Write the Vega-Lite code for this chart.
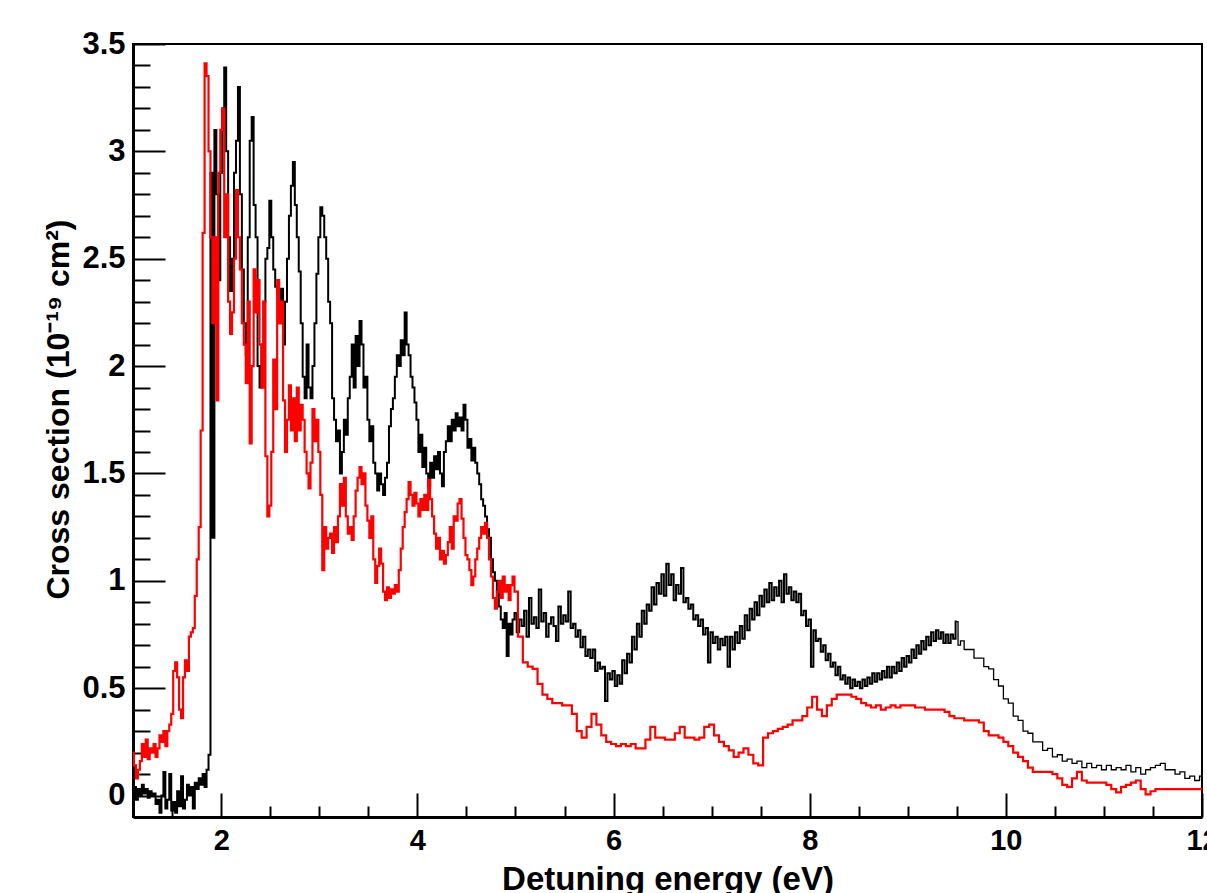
{
  "$schema": "https://vega.github.io/schema/vega-lite/v6.json",
  "width": 1069,
  "height": 773,
  "autosize": {"type": "none"},
  "padding": {"left": 133, "top": 44, "right": 5, "bottom": 76},
  "background": "white",
  "config": {
    "view": {"stroke": "#000", "strokeWidth": 2},
    "font": "Liberation Sans"
  },
  "datasets": {
    "black": [
      {"x":1.10,"y":0.02},{"x":1.12,"y":0.04},{"x":1.14,"y":-0.02},{"x":1.16,"y":0.03},{"x":1.18,"y":0.0},{"x":1.20,"y":0.05},{"x":1.22,"y":0.01},{"x":1.24,"y":0.03},{"x":1.26,"y":-0.01},{"x":1.28,"y":0.02},{"x":1.30,"y":0.0},{"x":1.32,"y":0.01},{"x":1.34,"y":-0.04},{"x":1.36,"y":-0.02},{"x":1.38,"y":-0.08},{"x":1.40,"y":0.0},{"x":1.42,"y":0.11},{"x":1.44,"y":-0.06},{"x":1.46,"y":-0.02},{"x":1.48,"y":0.10},{"x":1.50,"y":-0.07},{"x":1.52,"y":-0.03},{"x":1.54,"y":-0.08},{"x":1.56,"y":0.02},{"x":1.58,"y":-0.05},{"x":1.60,"y":0.09},{"x":1.62,"y":-0.06},{"x":1.64,"y":-0.02},{"x":1.66,"y":0.05},{"x":1.68,"y":0.0},{"x":1.70,"y":0.04},{"x":1.72,"y":-0.06},{"x":1.74,"y":0.06},{"x":1.76,"y":0.03},{"x":1.78,"y":0.08},{"x":1.80,"y":0.05},{"x":1.82,"y":0.1},{"x":1.84,"y":0.04},{"x":1.86,"y":0.12},{"x":1.88,"y":0.19},{"x":1.90,"y":2.9},{"x":1.92,"y":1.2},
      {"x":1.94,"y":3.1},{"x":1.96,"y":2.8},{"x":1.98,"y":2.4},{"x":2.00,"y":2.9},{"x":2.02,"y":3.2},{"x":2.04,"y":3.39},{"x":2.06,"y":3.0},{"x":2.08,"y":2.6},{"x":2.10,"y":2.35},{"x":2.12,"y":2.5},{"x":2.14,"y":2.9},{"x":2.16,"y":3.05},{"x":2.18,"y":3.3},{"x":2.20,"y":2.8},{"x":2.22,"y":2.45},{"x":2.24,"y":2.2},{"x":2.26,"y":2.05},{"x":2.28,"y":2.6},{"x":2.30,"y":3.05},{"x":2.32,"y":3.16},{"x":2.34,"y":2.75},{"x":2.36,"y":2.6},{"x":2.38,"y":2.0},{"x":2.40,"y":1.9},{"x":2.42,"y":2.1},{"x":2.44,"y":2.3},{"x":2.46,"y":2.5},{"x":2.48,"y":2.55},{"x":2.50,"y":2.77},{"x":2.52,"y":2.6},{"x":2.54,"y":2.45},{"x":2.56,"y":2.37},{"x":2.58,"y":2.35},{"x":2.60,"y":2.2},{"x":2.62,"y":2.36},{"x":2.64,"y":2.1},{"x":2.66,"y":2.3},{"x":2.68,"y":2.5},{"x":2.70,"y":2.7},{"x":2.72,"y":2.84},{"x":2.74,"y":2.95},{"x":2.76,"y":2.75},{"x":2.78,"y":2.6},{"x":2.80,"y":2.44},{"x":2.82,"y":2.2},{"x":2.84,"y":1.95},{"x":2.86,"y":1.85},{"x":2.88,"y":2.1},{"x":2.90,"y":1.9},{"x":2.92,"y":1.85},{"x":2.94,"y":2.0},{"x":2.96,"y":2.2},{"x":2.98,"y":2.43},{"x":3.00,"y":2.6},{"x":3.02,"y":2.74},{"x":3.04,"y":2.7},{"x":3.06,"y":2.6},{"x":3.08,"y":2.5},{"x":3.10,"y":2.3},{"x":3.12,"y":2.2},{"x":3.14,"y":1.85},{"x":3.16,"y":1.75},{"x":3.18,"y":1.65},{"x":3.20,"y":1.7},{"x":3.22,"y":1.5},{"x":3.24,"y":1.6},{"x":3.26,"y":1.75},{"x":3.28,"y":1.68},{"x":3.30,"y":1.85},{"x":3.32,"y":1.95},{"x":3.34,"y":2.1},{"x":3.36,"y":1.9},{"x":3.38,"y":2.14},{"x":3.40,"y":2.0},{"x":3.42,"y":2.21},{"x":3.44,"y":2.1},{"x":3.46,"y":1.9},{"x":3.48,"y":1.95},{"x":3.50,"y":1.75},{"x":3.52,"y":1.65},{"x":3.54,"y":1.72},{"x":3.56,"y":1.55},{"x":3.58,"y":1.5},{"x":3.60,"y":1.42},{"x":3.62,"y":1.5},{"x":3.64,"y":1.45},{"x":3.66,"y":1.4},{"x":3.68,"y":1.48},{"x":3.70,"y":1.55},{"x":3.72,"y":1.72},{"x":3.74,"y":1.8},{"x":3.76,"y":1.85},{"x":3.78,"y":1.95},{"x":3.80,"y":2.05},{"x":3.82,"y":2.0},{"x":3.84,"y":2.12},{"x":3.86,"y":2.05},{"x":3.88,"y":2.25},{"x":3.90,"y":2.1},{"x":3.92,"y":2.05},{"x":3.94,"y":1.95},{"x":3.96,"y":1.9},{"x":3.98,"y":1.83},{"x":4.00,"y":1.75},{"x":4.02,"y":1.6},{"x":4.04,"y":1.68},{"x":4.06,"y":1.53},{"x":4.08,"y":1.62},{"x":4.10,"y":1.5},{"x":4.12,"y":1.44},{"x":4.14,"y":1.55},{"x":4.16,"y":1.48},{"x":4.18,"y":1.58},{"x":4.20,"y":1.52},{"x":4.22,"y":1.6},{"x":4.24,"y":1.5},{"x":4.26,"y":1.44},{"x":4.28,"y":1.6},{"x":4.30,"y":1.65},{"x":4.32,"y":1.72},{"x":4.34,"y":1.65},{"x":4.36,"y":1.75},{"x":4.38,"y":1.7},{"x":4.40,"y":1.78},{"x":4.42,"y":1.72},{"x":4.44,"y":1.76},{"x":4.46,"y":1.7},{"x":4.48,"y":1.82},{"x":4.50,"y":1.75},{"x":4.52,"y":1.62},{"x":4.54,"y":1.66},{"x":4.56,"y":1.56},{"x":4.58,"y":1.62},{"x":4.60,"y":1.55},{"x":4.62,"y":1.5},{"x":4.64,"y":1.45},{"x":4.66,"y":1.38},{"x":4.68,"y":1.35},{"x":4.70,"y":1.3},{"x":4.72,"y":1.24},{"x":4.74,"y":1.2},{"x":4.76,"y":1.1},{"x":4.78,"y":1.04},{"x":4.80,"y":1.0},{"x":4.82,"y":0.95},{"x":4.84,"y":0.88},{"x":4.86,"y":0.82},{"x":4.88,"y":0.78},{"x":4.90,"y":0.85},{"x":4.92,"y":0.65},{"x":4.94,"y":0.8},{"x":4.96,"y":0.75},{"x":4.98,"y":0.82},
      {"x":5.000,"y":0.85},{"x":5.025,"y":0.76},{"x":5.050,"y":0.82},{"x":5.075,"y":0.79},{"x":5.100,"y":0.86},{"x":5.125,"y":0.74},{"x":5.150,"y":0.92},{"x":5.175,"y":0.80},{"x":5.200,"y":0.83},{"x":5.225,"y":0.78},{"x":5.250,"y":0.96},{"x":5.275,"y":0.81},{"x":5.300,"y":0.85},{"x":5.325,"y":0.74},{"x":5.350,"y":0.80},{"x":5.375,"y":0.83},{"x":5.400,"y":0.79},{"x":5.425,"y":0.72},{"x":5.450,"y":0.88},{"x":5.475,"y":0.80},{"x":5.500,"y":0.84},{"x":5.525,"y":0.81},{"x":5.550,"y":0.95},{"x":5.575,"y":0.78},{"x":5.600,"y":0.80},{"x":5.625,"y":0.74},{"x":5.650,"y":0.77},{"x":5.675,"y":0.69},{"x":5.700,"y":0.74},{"x":5.725,"y":0.65},{"x":5.750,"y":0.68},{"x":5.775,"y":0.64},{"x":5.800,"y":0.68},{"x":5.825,"y":0.58},{"x":5.850,"y":0.62},{"x":5.875,"y":0.59},{"x":5.900,"y":0.60},{"x":5.925,"y":0.44},{"x":5.950,"y":0.57},{"x":5.975,"y":0.54},{"x":6.000,"y":0.58},{"x":6.025,"y":0.51},{"x":6.050,"y":0.56},{"x":6.075,"y":0.52},{"x":6.100,"y":0.63},{"x":6.125,"y":0.57},{"x":6.150,"y":0.66},{"x":6.175,"y":0.62},{"x":6.200,"y":0.74},{"x":6.225,"y":0.68},{"x":6.250,"y":0.80},{"x":6.275,"y":0.74},{"x":6.300,"y":0.86},{"x":6.325,"y":0.80},{"x":6.350,"y":0.89},{"x":6.375,"y":0.86},{"x":6.400,"y":0.97},{"x":6.425,"y":0.89},{"x":6.450,"y":0.99},{"x":6.475,"y":0.94},{"x":6.500,"y":1.03},{"x":6.525,"y":0.93},{"x":6.550,"y":1.08},{"x":6.575,"y":0.98},{"x":6.600,"y":1.03},{"x":6.625,"y":0.91},{"x":6.650,"y":0.98},{"x":6.675,"y":0.94},{"x":6.700,"y":1.06},{"x":6.725,"y":0.90},{"x":6.750,"y":0.92},{"x":6.775,"y":0.87},{"x":6.800,"y":0.89},{"x":6.825,"y":0.82},{"x":6.850,"y":0.84},{"x":6.875,"y":0.79},{"x":6.900,"y":0.82},{"x":6.925,"y":0.75},{"x":6.950,"y":0.78},{"x":6.975,"y":0.62},{"x":7.000,"y":0.76},{"x":7.025,"y":0.71},{"x":7.050,"y":0.74},{"x":7.075,"y":0.68},{"x":7.100,"y":0.73},{"x":7.125,"y":0.70},{"x":7.150,"y":0.74},{"x":7.175,"y":0.60},{"x":7.200,"y":0.74},{"x":7.225,"y":0.68},{"x":7.250,"y":0.76},{"x":7.275,"y":0.71},{"x":7.300,"y":0.79},{"x":7.325,"y":0.73},{"x":7.350,"y":0.84},{"x":7.375,"y":0.77},{"x":7.400,"y":0.87},{"x":7.425,"y":0.82},{"x":7.450,"y":0.90},{"x":7.475,"y":0.84},{"x":7.500,"y":0.93},{"x":7.525,"y":0.88},{"x":7.550,"y":0.96},{"x":7.575,"y":0.90},{"x":7.600,"y":0.99},{"x":7.625,"y":0.91},{"x":7.650,"y":0.97},{"x":7.675,"y":0.93},{"x":7.700,"y":1.00},{"x":7.725,"y":0.90},{"x":7.750,"y":1.03},{"x":7.775,"y":0.94},{"x":7.800,"y":0.97},{"x":7.825,"y":0.91},{"x":7.850,"y":0.95},{"x":7.875,"y":0.90},{"x":7.900,"y":0.94},{"x":7.925,"y":0.84},{"x":7.950,"y":0.86},{"x":7.975,"y":0.79},{"x":8.000,"y":0.82},{"x":8.025,"y":0.60},{"x":8.050,"y":0.77},{"x":8.075,"y":0.72},{"x":8.100,"y":0.73},{"x":8.125,"y":0.67},{"x":8.150,"y":0.70},{"x":8.175,"y":0.63},{"x":8.200,"y":0.66},{"x":8.225,"y":0.60},{"x":8.250,"y":0.62},{"x":8.275,"y":0.56},{"x":8.300,"y":0.60},{"x":8.325,"y":0.54},{"x":8.350,"y":0.56},{"x":8.375,"y":0.52},{"x":8.400,"y":0.55},{"x":8.425,"y":0.50},{"x":8.450,"y":0.54},{"x":8.475,"y":0.51},{"x":8.500,"y":0.53},{"x":8.525,"y":0.50},{"x":8.550,"y":0.54},{"x":8.575,"y":0.51},{"x":8.600,"y":0.55},{"x":8.625,"y":0.52},{"x":8.650,"y":0.57},{"x":8.675,"y":0.53},{"x":8.700,"y":0.57},{"x":8.725,"y":0.54},{"x":8.750,"y":0.58},{"x":8.775,"y":0.55},{"x":8.800,"y":0.60},{"x":8.825,"y":0.55},{"x":8.850,"y":0.60},{"x":8.875,"y":0.57},{"x":8.900,"y":0.62},{"x":8.925,"y":0.58},{"x":8.950,"y":0.64},{"x":8.975,"y":0.60},{"x":9.000,"y":0.65},{"x":9.025,"y":0.62},{"x":9.050,"y":0.68},{"x":9.075,"y":0.64},{"x":9.100,"y":0.70},{"x":9.125,"y":0.66},{"x":9.150,"y":0.72},{"x":9.175,"y":0.68},{"x":9.200,"y":0.74},{"x":9.225,"y":0.70},{"x":9.250,"y":0.76},{"x":9.275,"y":0.72},{"x":9.300,"y":0.77},{"x":9.325,"y":0.73},{"x":9.350,"y":0.76},{"x":9.375,"y":0.71},{"x":9.400,"y":0.75},{"x":9.425,"y":0.71},{"x":9.450,"y":0.75},{"x":9.475,"y":0.73},{"x":9.500,"y":0.81}
    ],
    "blackTail": [
      {"x":9.500,"y":0.81},{"x":9.525,"y":0.70},{"x":9.55,"y":0.72},{"x":9.60,"y":0.68},{"x":9.65,"y":0.68},{"x":9.70,"y":0.64},{"x":9.75,"y":0.64},{"x":9.80,"y":0.60},{"x":9.85,"y":0.59},{"x":9.90,"y":0.54},{"x":9.95,"y":0.51},{"x":10.00,"y":0.45},{"x":10.05,"y":0.43},{"x":10.10,"y":0.37},{"x":10.15,"y":0.35},{"x":10.20,"y":0.30},{"x":10.25,"y":0.29},{"x":10.30,"y":0.25},{"x":10.35,"y":0.25},{"x":10.40,"y":0.21},{"x":10.45,"y":0.22},{"x":10.50,"y":0.18},{"x":10.55,"y":0.19},{"x":10.60,"y":0.16},{"x":10.65,"y":0.17},{"x":10.70,"y":0.15},{"x":10.75,"y":0.16},{"x":10.80,"y":0.13},{"x":10.85,"y":0.15},{"x":10.90,"y":0.13},{"x":10.95,"y":0.14},{"x":11.00,"y":0.12},{"x":11.05,"y":0.14},{"x":11.10,"y":0.12},{"x":11.15,"y":0.13},{"x":11.20,"y":0.12},{"x":11.25,"y":0.14},{"x":11.30,"y":0.11},{"x":11.35,"y":0.13},{"x":11.40,"y":0.10},{"x":11.45,"y":0.12},{"x":11.50,"y":0.13},{"x":11.55,"y":0.14},{"x":11.60,"y":0.15},{"x":11.65,"y":0.12},{"x":11.70,"y":0.12},{"x":11.75,"y":0.10},{"x":11.80,"y":0.11},{"x":11.85,"y":0.08},{"x":11.90,"y":0.09},{"x":11.95,"y":0.07},{"x":12.00,"y":0.09}
    ],
    "red": [
      {"x":1.10,"y":0.20},{"x":1.12,"y":0.14},{"x":1.14,"y":0.08},{"x":1.16,"y":0.12},{"x":1.18,"y":0.16},{"x":1.20,"y":0.24},{"x":1.22,"y":0.18},{"x":1.24,"y":0.26},{"x":1.26,"y":0.17},{"x":1.28,"y":0.22},{"x":1.30,"y":0.20},{"x":1.32,"y":0.24},{"x":1.34,"y":0.18},{"x":1.36,"y":0.22},{"x":1.38,"y":0.28},{"x":1.40,"y":0.25},{"x":1.42,"y":0.30},{"x":1.44,"y":0.23},{"x":1.46,"y":0.30},{"x":1.48,"y":0.33},{"x":1.50,"y":0.38},{"x":1.52,"y":0.58},{"x":1.54,"y":0.62},{"x":1.56,"y":0.55},{"x":1.58,"y":0.40},{"x":1.60,"y":0.36},{"x":1.62,"y":0.55},{"x":1.64,"y":0.63},{"x":1.66,"y":0.58},{"x":1.68,"y":0.74},{"x":1.70,"y":0.76},{"x":1.72,"y":0.78},{"x":1.74,"y":0.93},{"x":1.76,"y":1.1},{"x":1.78,"y":1.25},{"x":1.80,"y":1.70},{"x":1.82,"y":2.62},{"x":1.84,"y":3.41},{"x":1.86,"y":3.35},{"x":1.88,"y":3.0},{"x":1.90,"y":2.6},{"x":1.92,"y":2.2},{"x":1.94,"y":2.6},{"x":1.96,"y":1.84},{"x":1.98,"y":2.9},{"x":2.00,"y":3.1},{"x":2.02,"y":3.2},{"x":2.04,"y":2.6},{"x":2.06,"y":2.8},{"x":2.08,"y":2.3},{"x":2.10,"y":2.15},{"x":2.12,"y":2.25},{"x":2.14,"y":2.5},{"x":2.16,"y":2.82},{"x":2.18,"y":2.6},{"x":2.20,"y":2.45},{"x":2.22,"y":2.2},{"x":2.24,"y":2.1},{"x":2.26,"y":1.92},{"x":2.28,"y":2.3},{"x":2.30,"y":1.64},{"x":2.32,"y":2.0},{"x":2.34,"y":2.45},{"x":2.36,"y":2.25},{"x":2.38,"y":2.4},{"x":2.40,"y":2.1},{"x":2.42,"y":1.9},{"x":2.44,"y":2.3},{"x":2.46,"y":1.58},{"x":2.48,"y":1.3},{"x":2.50,"y":1.35},{"x":2.52,"y":1.6},{"x":2.54,"y":2.03},{"x":2.56,"y":1.8},{"x":2.58,"y":2.4},{"x":2.60,"y":2.2},{"x":2.62,"y":2.3},{"x":2.64,"y":1.84},{"x":2.66,"y":1.6},{"x":2.68,"y":1.75},{"x":2.70,"y":1.91},{"x":2.72,"y":1.7},{"x":2.74,"y":1.85},{"x":2.76,"y":1.65},{"x":2.78,"y":1.9},{"x":2.80,"y":1.7},{"x":2.82,"y":1.82},{"x":2.84,"y":1.75},{"x":2.86,"y":1.6},{"x":2.88,"y":1.5},{"x":2.90,"y":1.43},{"x":2.92,"y":1.55},{"x":2.94,"y":1.8},{"x":2.96,"y":1.65},{"x":2.98,"y":1.75},{"x":3.00,"y":1.6},{"x":3.02,"y":1.4},{"x":3.04,"y":1.05},{"x":3.06,"y":1.25},{"x":3.08,"y":1.15},{"x":3.10,"y":1.2},{"x":3.12,"y":1.22},{"x":3.14,"y":1.13},{"x":3.16,"y":1.25},{"x":3.18,"y":1.18},{"x":3.20,"y":1.3},{"x":3.22,"y":1.45},{"x":3.24,"y":1.35},{"x":3.26,"y":1.48},{"x":3.28,"y":1.3},{"x":3.30,"y":1.22},{"x":3.32,"y":1.25},{"x":3.34,"y":1.19},{"x":3.36,"y":1.3},{"x":3.38,"y":1.42},{"x":3.40,"y":1.48},{"x":3.42,"y":1.53},{"x":3.44,"y":1.45},{"x":3.46,"y":1.5},{"x":3.48,"y":1.35},{"x":3.50,"y":1.28},{"x":3.52,"y":1.2},{"x":3.54,"y":1.3},{"x":3.56,"y":1.1},{"x":3.58,"y":0.99},{"x":3.60,"y":1.07},{"x":3.62,"y":1.15},{"x":3.64,"y":1.08},{"x":3.66,"y":0.95},{"x":3.68,"y":0.91},{"x":3.70,"y":0.97},{"x":3.72,"y":0.92},{"x":3.74,"y":0.96},{"x":3.76,"y":0.94},{"x":3.78,"y":0.98},{"x":3.80,"y":0.95},{"x":3.82,"y":1.05},{"x":3.84,"y":1.15},{"x":3.86,"y":1.25},{"x":3.88,"y":1.32},{"x":3.90,"y":1.38},{"x":3.92,"y":1.46},{"x":3.94,"y":1.4},{"x":3.96,"y":1.35},{"x":3.98,"y":1.41},{"x":4.00,"y":1.36},{"x":4.02,"y":1.3},{"x":4.04,"y":1.38},{"x":4.06,"y":1.33},{"x":4.08,"y":1.4},{"x":4.10,"y":1.33},{"x":4.12,"y":1.47},{"x":4.14,"y":1.38},{"x":4.16,"y":1.3},{"x":4.18,"y":1.22},{"x":4.20,"y":1.15},{"x":4.22,"y":1.2},{"x":4.24,"y":1.1},{"x":4.26,"y":1.14},{"x":4.28,"y":1.08},{"x":4.30,"y":1.12},{"x":4.32,"y":1.18},{"x":4.34,"y":1.25},{"x":4.36,"y":1.15},{"x":4.38,"y":1.3},{"x":4.40,"y":1.28},{"x":4.42,"y":1.36},{"x":4.44,"y":1.38},{"x":4.46,"y":1.29},{"x":4.48,"y":1.2},{"x":4.50,"y":1.12},{"x":4.52,"y":1.1},{"x":4.54,"y":1.05},{"x":4.56,"y":0.98},{"x":4.58,"y":1.02},{"x":4.60,"y":1.1},{"x":4.62,"y":1.15},{"x":4.64,"y":1.2},{"x":4.66,"y":1.25},{"x":4.68,"y":1.22},{"x":4.70,"y":1.27},{"x":4.72,"y":1.2},{"x":4.74,"y":1.1},{"x":4.76,"y":1.02},{"x":4.78,"y":0.92},{"x":4.80,"y":0.87},{"x":4.82,"y":0.95},{"x":4.84,"y":1.0},{"x":4.86,"y":0.92},{"x":4.88,"y":1.02},{"x":4.90,"y":0.95},{"x":4.92,"y":0.98},{"x":4.94,"y":0.91},{"x":4.96,"y":0.98},{"x":4.98,"y":1.02},{"x":5.00,"y":0.95},
      {"x":5.05,"y":0.74},{"x":5.10,"y":0.62},{"x":5.15,"y":0.60},{"x":5.20,"y":0.59},{"x":5.25,"y":0.52},{"x":5.30,"y":0.47},{"x":5.35,"y":0.45},{"x":5.40,"y":0.43},{"x":5.45,"y":0.43},{"x":5.50,"y":0.42},{"x":5.55,"y":0.42},{"x":5.60,"y":0.38},{"x":5.65,"y":0.30},{"x":5.70,"y":0.27},{"x":5.75,"y":0.32},{"x":5.80,"y":0.38},{"x":5.85,"y":0.33},{"x":5.90,"y":0.28},{"x":5.95,"y":0.25},{"x":6.00,"y":0.24},{"x":6.05,"y":0.23},{"x":6.10,"y":0.24},{"x":6.15,"y":0.23},{"x":6.20,"y":0.24},{"x":6.25,"y":0.22},{"x":6.30,"y":0.22},{"x":6.35,"y":0.26},{"x":6.40,"y":0.32},{"x":6.45,"y":0.27},{"x":6.50,"y":0.27},{"x":6.55,"y":0.26},{"x":6.60,"y":0.26},{"x":6.65,"y":0.29},{"x":6.70,"y":0.32},{"x":6.75,"y":0.27},{"x":6.80,"y":0.27},{"x":6.85,"y":0.26},{"x":6.90,"y":0.27},{"x":6.95,"y":0.32},{"x":7.00,"y":0.33},{"x":7.05,"y":0.28},{"x":7.10,"y":0.25},{"x":7.15,"y":0.23},{"x":7.20,"y":0.21},{"x":7.25,"y":0.18},{"x":7.30,"y":0.20},{"x":7.35,"y":0.22},{"x":7.40,"y":0.19},{"x":7.45,"y":0.15},{"x":7.50,"y":0.14},{"x":7.55,"y":0.27},{"x":7.60,"y":0.29},{"x":7.65,"y":0.30},{"x":7.70,"y":0.31},{"x":7.75,"y":0.32},{"x":7.80,"y":0.33},{"x":7.85,"y":0.35},{"x":7.90,"y":0.35},{"x":7.95,"y":0.37},{"x":8.00,"y":0.41},{"x":8.05,"y":0.46},{"x":8.10,"y":0.40},{"x":8.15,"y":0.37},{"x":8.20,"y":0.42},{"x":8.25,"y":0.45},{"x":8.30,"y":0.47},{"x":8.35,"y":0.47},{"x":8.40,"y":0.47},{"x":8.45,"y":0.46},{"x":8.50,"y":0.45},{"x":8.55,"y":0.43},{"x":8.60,"y":0.42},{"x":8.65,"y":0.41},{"x":8.70,"y":0.42},{"x":8.75,"y":0.40},{"x":8.80,"y":0.41},{"x":8.85,"y":0.42},{"x":8.90,"y":0.41},{"x":8.95,"y":0.42},{"x":9.00,"y":0.42},{"x":9.05,"y":0.42},{"x":9.10,"y":0.41},{"x":9.15,"y":0.41},{"x":9.20,"y":0.40},{"x":9.25,"y":0.40},{"x":9.30,"y":0.40},{"x":9.35,"y":0.40},{"x":9.40,"y":0.39},{"x":9.45,"y":0.37},{"x":9.50,"y":0.36},{"x":9.55,"y":0.36},{"x":9.60,"y":0.35},{"x":9.65,"y":0.35},{"x":9.70,"y":0.35},{"x":9.75,"y":0.34},{"x":9.80,"y":0.30},{"x":9.85,"y":0.28},{"x":9.90,"y":0.28},{"x":9.95,"y":0.27},{"x":10.00,"y":0.25},{"x":10.05,"y":0.23},{"x":10.10,"y":0.20},{"x":10.15,"y":0.18},{"x":10.20,"y":0.16},{"x":10.25,"y":0.13},{"x":10.30,"y":0.11},{"x":10.35,"y":0.11},{"x":10.40,"y":0.11},{"x":10.45,"y":0.11},{"x":10.50,"y":0.10},{"x":10.55,"y":0.08},{"x":10.60,"y":0.05},{"x":10.65,"y":0.04},{"x":10.70,"y":0.08},{"x":10.75,"y":0.11},{"x":10.80,"y":0.07},{"x":10.85,"y":0.06},{"x":10.90,"y":0.06},{"x":10.95,"y":0.06},{"x":11.00,"y":0.06},{"x":11.05,"y":0.05},{"x":11.10,"y":0.03},{"x":11.15,"y":0.015},{"x":11.20,"y":0.04},{"x":11.25,"y":0.05},{"x":11.30,"y":0.06},{"x":11.35,"y":0.07},{"x":11.40,"y":0.03},{"x":11.45,"y":0.005},{"x":11.50,"y":0.02},{"x":11.55,"y":0.03},{"x":11.60,"y":0.03},{"x":11.70,"y":0.03},{"x":11.80,"y":0.03},{"x":11.90,"y":0.03},{"x":12.00,"y":0.03}
    ]
  },
  "encoding": {
    "x": {
      "field": "x", "type": "quantitative",
      "scale": {"domain": [1.1, 12], "nice": false, "zero": false},
      "axis": {
        "title": "Detuning energy (eV)",
        "titleFont": "Liberation Sans", "titleFontSize": 33, "titleFontWeight": "bold", "titleColor": "#000",
        "titleBaseline": "alphabetic", "titleY": 72,
        "values": [1.5,2,2.5,3,3.5,4,4.5,5,5.5,6,6.5,7,7.5,8,8.5,9,9.5,10,10.5,11,11.5,12],
        "labelExpr": "datum.value % 2 === 0 ? format(datum.value, '~g') : ''",
        "labelFont": "Liberation Sans", "labelFontSize": 29, "labelFontWeight": "bold", "labelColor": "#000",
        "labelOverlap": false, "labelFlush": false, "labelPadding": 33,
        "tickColor": "#000", "tickWidth": 2,
        "tickSize": {"condition": {"test": "datum.value % 2 === 0", "value": -24}, "value": -11},
        "domainColor": "#000", "domainWidth": 3, "grid": false
      }
    },
    "y": {
      "field": "y", "type": "quantitative",
      "scale": {"domain": [-0.1, 3.5], "nice": false, "zero": false},
      "axis": {
        "title": "Cross section (10⁻¹⁹ cm²)",
        "titleFont": "Liberation Sans", "titleFontSize": 32, "titleFontWeight": "bold", "titleColor": "#000",
        "titleBaseline": "alphabetic", "titleX": -65, "titleY": 365, "titleAngle": -90, "titleAlign": "center",
        "values": [0,0.1,0.2,0.3,0.4,0.5,0.6,0.7,0.8,0.9,1,1.1,1.2,1.3,1.4,1.5,1.6,1.7,1.8,1.9,2,2.1,2.2,2.3,2.4,2.5,2.6,2.7,2.8,2.9,3,3.1,3.2,3.3,3.4,3.5],
        "labelExpr": "abs(datum.value*2 - round(datum.value*2)) < 0.001 ? format(datum.value, '~g') : ''",
        "labelFont": "Liberation Sans", "labelFontSize": 31, "labelFontWeight": "bold", "labelColor": "#000",
        "labelOverlap": false, "labelFlush": false, "labelPadding": 40, "labelBaseline": "middle",
        "tickColor": "#000", "tickWidth": 2,
        "tickSize": {"condition": {"test": "abs(datum.value*2 - round(datum.value*2)) < 0.001", "value": -32}, "value": -17},
        "domainColor": "#000", "domainWidth": 3, "grid": false
      }
    }
  },
  "layer": [
    {
      "data": {"name": "black"},
      "mark": {"type": "line", "interpolate": "step", "color": "#000000", "strokeWidth": 2, "clip": true}
    },
    {
      "data": {"name": "blackTail"},
      "mark": {"type": "line", "interpolate": "step", "color": "#000000", "strokeWidth": 1.3, "clip": true}
    },
    {
      "data": {"name": "red"},
      "mark": {"type": "line", "interpolate": "step", "color": "#ff0000", "strokeWidth": 2.2, "clip": true}
    }
  ]
}
